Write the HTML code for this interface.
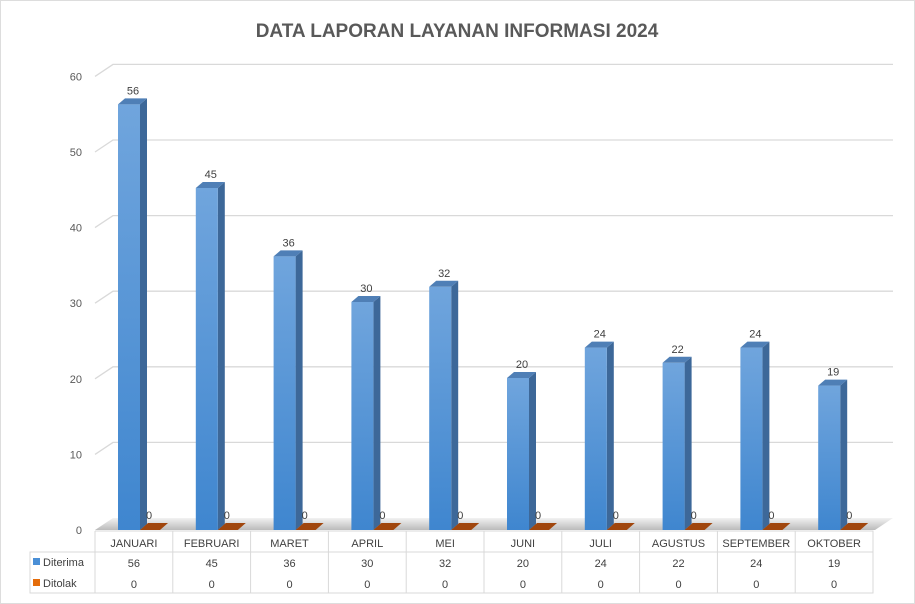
<!DOCTYPE html><html><head><style>body{margin:0;background:#fff}svg{display:block}text{font-family:"Liberation Sans",sans-serif}</style></head><body>
<svg width="915" height="604" xmlns="http://www.w3.org/2000/svg">
<defs><linearGradient id="g" x1="0" y1="0" x2="0" y2="1"><stop offset="0" stop-color="#70a5dd"/><stop offset="1" stop-color="#3f86cf"/></linearGradient>
<linearGradient id="fl" x1="0" y1="0" x2="0" y2="1"><stop offset="0" stop-color="#f2f2f2"/><stop offset="1" stop-color="#bbb"/></linearGradient></defs>
<rect x="0.5" y="0.5" width="914" height="603" fill="#fff" stroke="#ddd"/>
<text x="457" y="37" text-anchor="middle" font-size="19" font-weight="bold" fill="#595959">DATA LAPORAN LAYANAN INFORMASI 2024</text>
<g stroke="#d9d9d9" stroke-width="1.3" fill="none" id="grid"></g>
<polygon points="95,530 113,518 893,518 875,530" fill="url(#fl)"/>
<g id="bars"></g>
<g font-size="11" fill="#595959" id="yl"></g>
<g stroke="#d9d9d9" fill="none"><path d="M95,531H873V593H30V552H873M95,531V593"/></g>
<g id="tbl" font-size="11" fill="#404040"></g>
<rect x="33" y="558" width="7" height="7" fill="#4a8fd6"/><text x="43" y="566" font-size="11" fill="#404040">Diterima</text>
<rect x="33" y="579" width="7" height="7" fill="#e46c0a"/><text x="43" y="587" font-size="11" fill="#404040">Ditolak</text>
</svg>
<script>
const ns="http://www.w3.org/2000/svg";
function el(p,t,a,txt){const e=document.createElementNS(ns,t);for(const k in a)e.setAttribute(k,a[k]);if(txt!==undefined)e.textContent=txt;document.getElementById(p).appendChild(e);return e;}
for(let i=0;i<=6;i++){const yb=518-i*75.6,yf=yb+12;
 if(i>0)el("grid","path",{d:`M95,${yf}L113,${yb}H893`});
 el("yl","text",{x:82,y:yf+4,"text-anchor":"end"},i*10);}
const m=["JANUARI","FEBRUARI","MARET","APRIL","MEI","JUNI","JULI","AGUSTUS","SEPTEMBER","OKTOBER"],v=[56,45,36,30,32,20,24,22,24,19];
for(let i=0;i<10;i++){const x=118+i*77.8,h=v[i]*7.6,t=530-h;
 el("bars","polygon",{points:`${x+22},${t} ${x+29},${t-6} ${x+29},${524} ${x+22},530`,fill:"#3d6899"});
 el("bars","rect",{x:x,y:t,width:22,height:h,fill:"url(#g)"});
 el("bars","polygon",{points:`${x},${t} ${x+7},${t-6} ${x+29},${t-6} ${x+22},${t}`,fill:"#4f7fb6"});
 el("bars","polygon",{points:`${x+22},530 ${x+30},523 ${x+50},523 ${x+42},530`,fill:"#a0460d"});
 el("bars","text",{x:x+15,y:t-10,"text-anchor":"middle","font-size":"11",fill:"#404040"},v[i]);
 el("bars","text",{x:x+28,y:519,"font-size":"11",fill:"#404040"},"0");
 const cx=95+i*77.8+38.9;
 if(i>0)el("tbl","line",{x1:95+i*77.8,y1:531,x2:95+i*77.8,y2:593,stroke:"#d9d9d9"});
 el("tbl","text",{x:cx,y:547,"text-anchor":"middle"},m[i]);
 el("tbl","text",{x:cx,y:567,"text-anchor":"middle"},v[i]);
 el("tbl","text",{x:cx,y:588,"text-anchor":"middle"},"0");}
</script>
</body></html>
